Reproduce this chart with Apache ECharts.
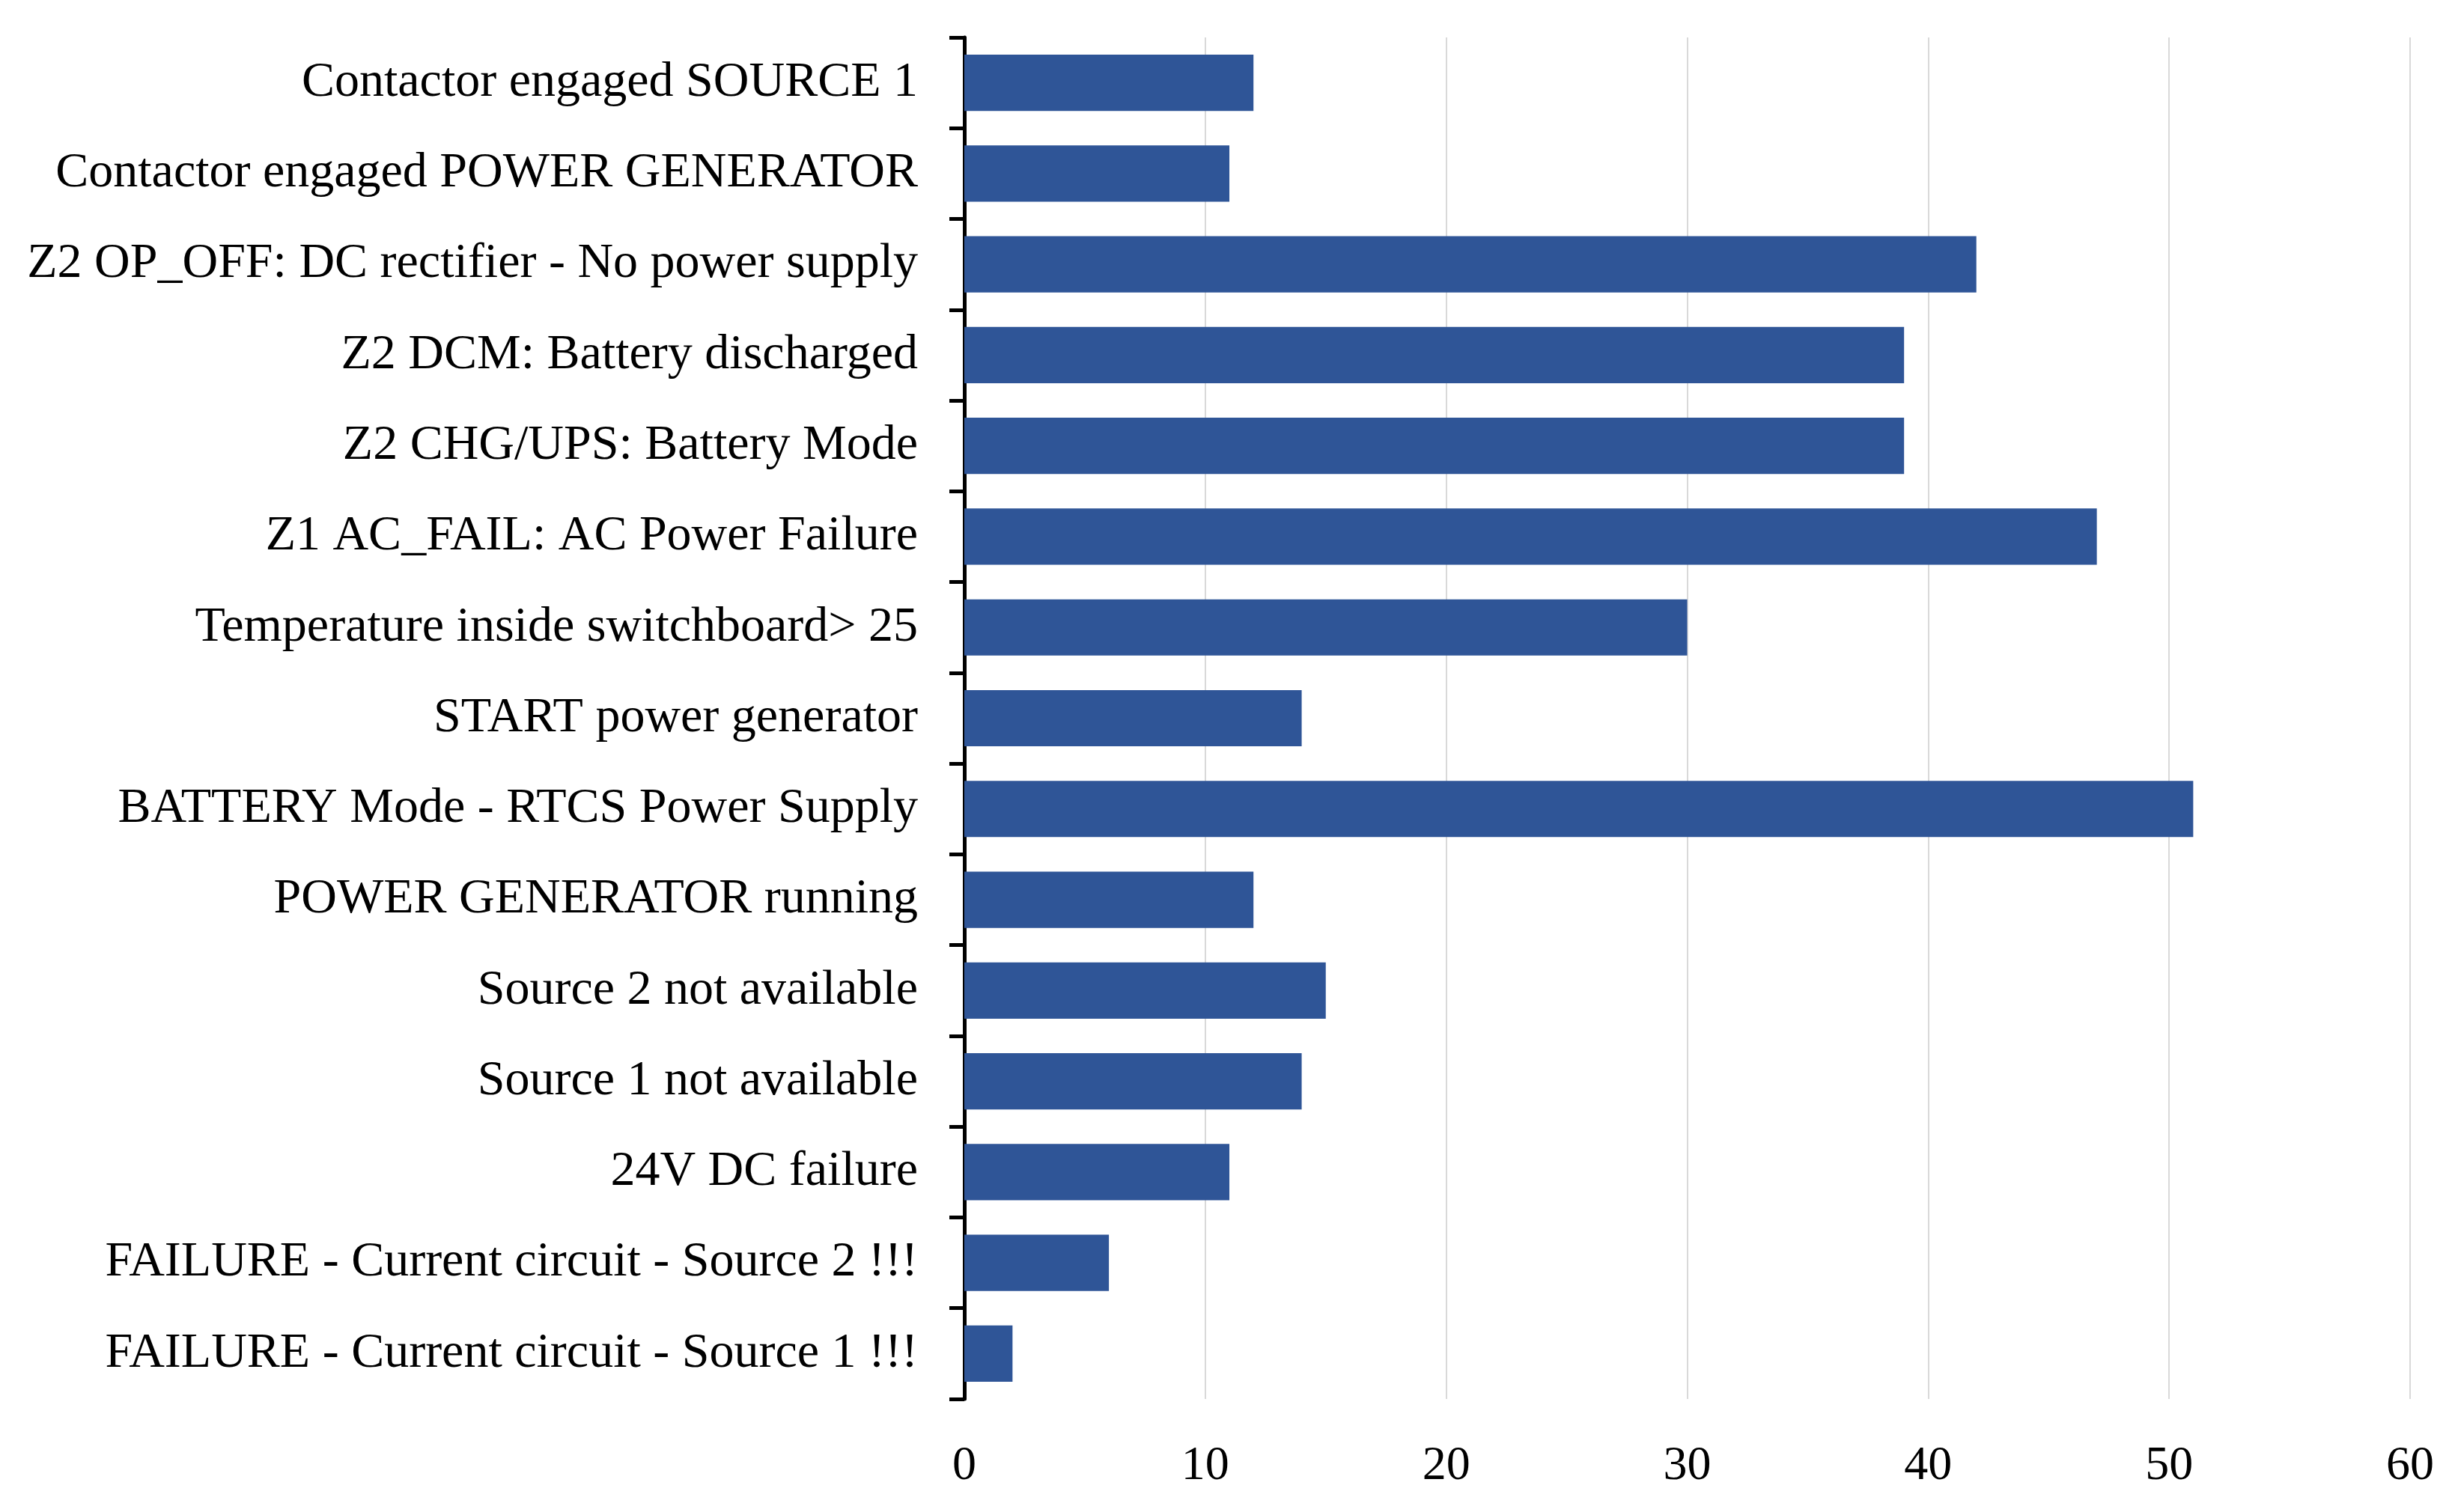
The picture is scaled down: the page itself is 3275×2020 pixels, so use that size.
<!DOCTYPE html>
<html>
<head>
<meta charset="utf-8">
<script src="https://cdn.jsdelivr.net/npm/echarts@6/dist/echarts.min.js"></script>
<style>
  html, body { margin: 0; padding: 0; background: #fff; }
  #main { width: 3275px; height: 2020px; }
</style>
</head>
<body>
<div id="main"></div>
<script>
// categories listed top to bottom, as in the picture
const categories = [
    'Contactor engaged SOURCE 1',
    'Contactor engaged POWER GENERATOR',
    'Z2 OP_OFF: DC rectifier - No power supply',
    'Z2 DCM: Battery discharged',
    'Z2 CHG/UPS: Battery Mode',
    'Z1 AC_FAIL: AC Power Failure',
    'Temperature inside switchboard> 25',
    'START power generator',
    'BATTERY Mode - RTCS Power Supply',
    'POWER GENERATOR running',
    'Source 2 not available',
    'Source 1 not available',
    '24V DC failure',
    'FAILURE - Current circuit - Source 2 !!!',
    'FAILURE - Current circuit - Source 1 !!!'
];
const counts = [12, 11, 42, 39, 39, 47, 30, 14, 51, 12, 15, 14, 11, 6, 2];
const xTicks = { min: 0, max: 60, interval: 10 };

const serif = '"Liberation Serif", "DejaVu Serif", serif';

let myChart = echarts.init(document.getElementById('main'));
myChart.setOption({
    animation: false,
    grid: {
        left: 1288,
        right: 56,
        top: 50,
        bottom: 151,
        containLabel: false
    },
    xAxis: {
        type: 'value',
        min: xTicks.min,
        max: xTicks.max,
        interval: xTicks.interval,
        axisLine: { show: false },
        axisTick: { show: false },
        axisLabel: {
            margin: 58,
            color: '#000',
            fontFamily: serif,
            fontSize: 64
        },
        splitLine: {
            lineStyle: { color: '#d9d9d9', width: 2 }
        }
    },
    yAxis: {
        type: 'category',
        inverse: true,
        data: categories,
        axisLine: {
            show: true,
            lineStyle: { color: '#000', width: 5 }
        },
        axisTick: {
            show: true,
            length: 20,
            lineStyle: { color: '#000', width: 5 }
        },
        axisLabel: {
            margin: 62,
            color: '#000',
            fontFamily: serif,
            fontSize: 66
        }
    },
    series: [
        {
            type: 'bar',
            data: counts,
            barWidth: '62%',
            itemStyle: { color: '#2f5597' }
        }
    ]
});
</script>
</body>
</html>
